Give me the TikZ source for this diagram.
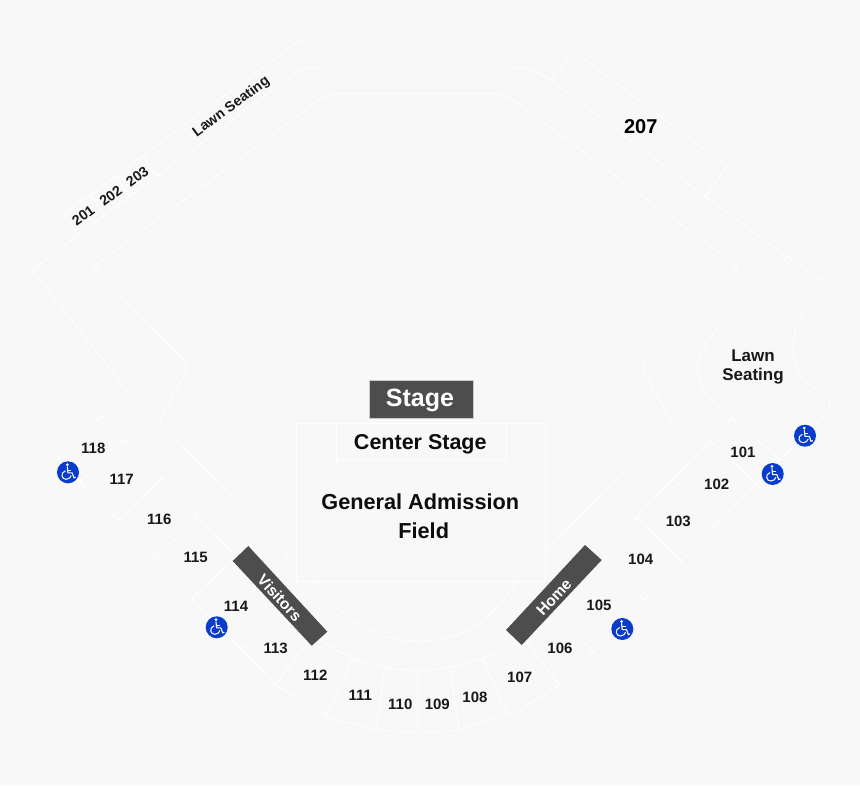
\documentclass[tikz,border=0pt]{standalone}
\usepackage{fontspec}
\setmainfont{Liberation Sans}
\definecolor{bg}{HTML}{F8F8F8}
\definecolor{bar}{HTML}{4D4D4D}
\definecolor{wc}{HTML}{0A3CCB}
\tikzset{
  seat/.style={draw=white,line width=0.9pt,line join=miter},
  darkbar/.style={fill=bar,draw=none},
  num/.style={font=\bfseries\fontsize{15}{15}\selectfont,text=black!90,inner sep=0pt},
  numtilt/.style={font=\bfseries\fontsize{14.2}{15}\selectfont,text=black!90,inner sep=0pt,rotate=36.5},
  big/.style={font=\bfseries\fontsize{21.7}{26}\selectfont,text=black!95,inner sep=0pt},
  barlabel/.style={font=\bfseries\fontsize{15.6}{16}\selectfont,text=white,inner sep=0pt},
  wchair/.pic={
    \fill[wc] (0,0) circle (11);
    \fill[white] (-0.7,-7.6) circle (1.5);
    \draw[white,line width=1.1pt,line cap=round,line join=round]
      (-0.7,-5.5) -- (-0.1,0.6) -- (4.2,0.6) -- (6,5.6) -- (7.5,5);
    \draw[white,line width=1pt] (-0.3,-2.2) -- (3.3,-2.2);
    \draw[white,line width=1pt] (-2.6,-1.5) .. controls (-8,0.5) and (-6.5,7.2) .. (-1.8,7) .. controls (1,6.8) and (2.8,5.2) .. (3.2,3.2);
  }
}
\begin{document}
\begin{tikzpicture}[x=1pt,y=-1pt]
\useasboundingbox (0,0) rectangle (860,785);
\fill[bg] (0,0) rectangle (860,785);
% outer outline, with the lawn cut-out
\draw[seat] (101.7,416) -- (127,390.7) -- (32.4,270) -- (78.3,235) -- (297,71.7)
  .. controls (307,66.5) and (316,67) .. (328,67) -- (510,67)
  .. controls (526,67) and (538,71.5) .. (550,80) -- (705,196.7) -- (788,257) -- (829.5,285.5) -- (829.5,291)
  .. controls (807,300) and (793,322) .. (793,347)
  .. controls (793,370) and (807,388) .. (829.5,397) -- (829.5,409) -- (780,460) -- (756.7,484)
  -- (719,522.7) -- (681.7,561) -- (644.3,599.3) -- (593.3,651.7) -- (563,682.7) -- (559.3,685)
  -- (515,712.7) -- (507.3,715) -- (459.3,730) .. controls (445,731.5) and (431,731.7) .. (417.3,731.7)
  .. controls (403,731.7) and (390,731) .. (376,729.3) -- (330,718.3) -- (326,715) -- (275,684.5)
  -- (241.7,649.3) -- (191.7,598.3) -- (155,559) -- (118.3,520) -- (80,481.7) -- (57.3,458.3) -- cycle;
% upper lawn band and section 207
\draw[seat] (78.3,235) -- (63.3,214.3) -- (297.7,41.7) -- (334,41.7) -- (334,67);
\draw[seat] (90.7,195) -- (104,215.7);
\draw[seat] (116,176.7) -- (130,195.7);
\draw[seat] (143.3,157.3) -- (156.7,176);
\draw[seat] (550,80) -- (574,51.7) -- (726.7,166.7) -- (705,196.7);
% inner outline
\draw[seat] (312.7,581.7) .. controls (337,606) and (360,641) .. (420,641)
  .. controls (480,641) and (495,606) .. (518.3,581.7);
\draw[seat] (293.3,561.7) -- (159.3,421.3) -- (185.5,372)
  .. controls (188.5,367) and (188,364) .. (185,361) -- (93.3,267.3) -- (313.3,104)
  .. controls (322,97) and (330,93.3) .. (342,93.3) -- (486.7,93.3)
  .. controls (500,93.3) and (510,97) .. (518.3,103.3) -- (738.3,267.3) -- (645,361)
  .. controls (642,364) and (641.5,367) .. (644,372) -- (671,421.7) -- (545.7,551.7);
% right lawn
\draw[seat] (788,257) -- (735,309) .. controls (712,333) and (697.7,352) .. (697.7,370)
  .. controls (697.7,390) and (712,398) .. (731.7,417.7);
% 100-level sections
\draw[seat] (101.7,416) -- (235,555);
\draw[seat] (125,440.7) -- (80,481.7);
\draw[seat] (161.7,478.3) -- (118.3,520);
\draw[seat] (198.3,516.7) -- (155,559);
\draw[seat] (231.7,561.7) -- (191.7,598.3);
\draw[seat] (278,615) -- (241.7,649.3);
\draw[seat] (308,643.3) -- (275,684.5);
\draw[seat] (320,640) .. controls (340,654) and (375,670.3) .. (417.3,670.3)
  .. controls (460,670.3) and (495,655) .. (516.7,643.3);
\draw[seat] (353.3,659.3) -- (326,715);
\draw[seat] (385,668.3) -- (376,729.3);
\draw[seat] (417.3,670.3) -- (417.3,731.7);
\draw[seat] (450,668.3) -- (459.3,730);
\draw[seat] (483.3,660) -- (507.3,715);
\draw[seat] (526.7,641.7) -- (559.3,685);
\draw[seat] (555,613.3) -- (593.3,651.7);
\draw[seat] (601.7,560) -- (644.3,599.3);
\draw[seat] (636,517.3) -- (681.7,561);
\draw[seat] (673.3,479) -- (719,522.7);
\draw[seat] (710,440.7) -- (756.7,484);
\draw[seat] (731.7,417.7) -- (780,460);
\draw[seat] (601.7,553.3) -- (731.7,417.7);
% field and centre stage
\draw[seat,fill=bg] (296.7,423.3) rectangle (545.7,581);
\draw[seat] (336,423.3) -- (336,460) -- (506.7,460) -- (506.7,423.3);
% dark bars
\fill[bar,draw=white!70!bar,line width=0.5pt] (369,380) rectangle (473.7,418.3);
\fill[darkbar] (248.3,546) -- (327.3,631.7) -- (311.7,645.7) -- (232.7,561) -- cycle;
\fill[darkbar] (585,545) -- (601.7,560) -- (521.7,645) -- (506,630) -- cycle;
% accessibility symbols
\pic at (68,472.3) {wchair};
\pic at (216.7,627.3) {wchair};
\pic at (622.3,629) {wchair};
\pic at (772.7,474) {wchair};
\pic at (805,435.7) {wchair};
% texts
\node[font=\bfseries\fontsize{25}{25}\selectfont,text=white,inner sep=0pt] (stage) at (420,400) {Stage};
\node[big,font=\bfseries\fontsize{21.5}{26}\selectfont] (center) at (420.3,444) {Center Stage};
\node[big] (ga) at (420.3,502) {General Admission};
\node[big] (field) at (423.7,530.5) {Field};
\node[barlabel,rotate=-47.3] (visitors) at (279.7,597.7) {Visitors};
\node[barlabel,rotate=47] (home) at (554,597.5) {Home};
\node[font=\bfseries\fontsize{20}{20}\selectfont,text=black,inner sep=0pt] (s207) at (640.7,126.7) {207};
\node[font=\bfseries\fontsize{17}{19}\selectfont,text=black!90,inner sep=0pt,align=center] (lawnr) at (753,366.5) {Lawn\\Seating};
\node[numtilt] (lawnt) at (231.5,107) {Lawn Seating};
\node[numtilt] (s201) at (83.3,215.7) {201};
\node[numtilt] (s202) at (110.7,196) {202};
\node[numtilt] (s203) at (137.3,176.7) {203};
\node[num] (s101) at (743,452.8) {101};
\node[num] (s102) at (716.7,484.2) {102};
\node[num] (s103) at (678.3,521.5) {103};
\node[num] (s104) at (640.7,559.2) {104};
\node[num] (s105) at (599,605.2) {105};
\node[num] (s106) at (560,648.5) {106};
\node[num] (s107) at (519.7,677.2) {107};
\node[num] (s108) at (475,697.2) {108};
\node[num] (s109) at (437.3,704.5) {109};
\node[num] (s110) at (400.3,704.5) {110};
\node[num] (s111) at (360.3,695.5) {111};
\node[num] (s112) at (315.3,675.5) {112};
\node[num] (s113) at (275.7,648.5) {113};
\node[num] (s114) at (236,606.2) {114};
\node[num] (s115) at (195.7,557.5) {115};
\node[num] (s116) at (159.3,519.2) {116};
\node[num] (s117) at (121.7,479.8) {117};
\node[num] (s118) at (93.3,448.2) {118};
\end{tikzpicture}
\end{document}
